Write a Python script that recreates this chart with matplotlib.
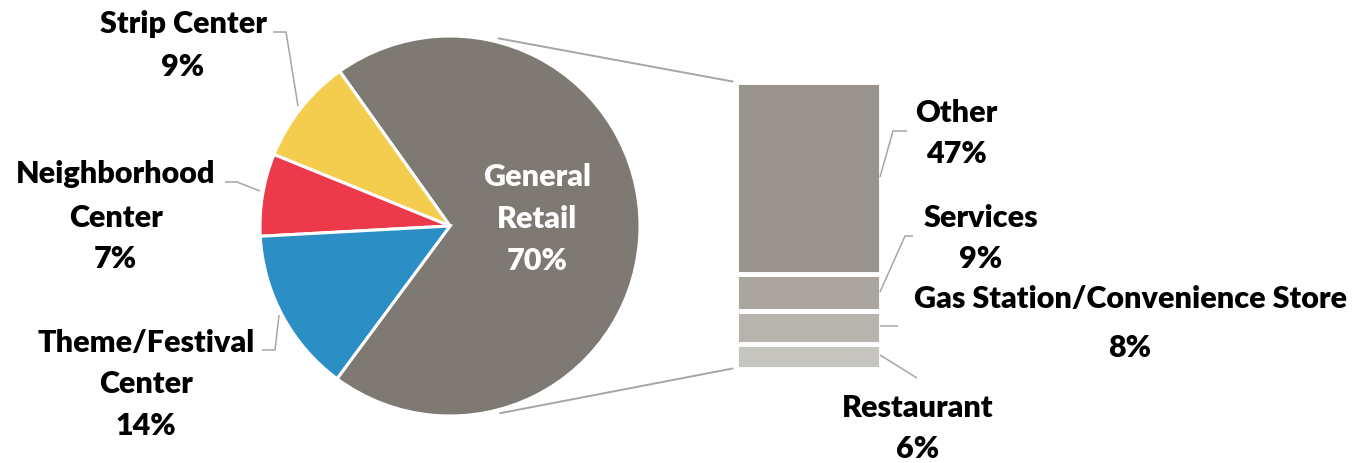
import matplotlib.pyplot as plt
import numpy as np
from matplotlib.patches import ConnectionPatch

# retail property mix: pie, with the General Retail slice broken out as a stacked bar
pie_names = ['General\nRetail', 'Strip Center', 'Neighborhood\nCenter', 'Theme/Festival\nCenter']
pie_values = [70, 9, 7, 14]
pie_colors = ['#7e7973', '#f4cd4f', '#ec3a4b', '#2b8ec4']

bar_names = ['Restaurant', 'Gas Station/Convenience Store', 'Services', 'Other']
bar_values = [6, 8, 9, 47]
bar_colors = ['#c6c5c0', '#b7b4ae', '#aaa69f', '#98938c']

W, H = 1357, 464
FONT = ['Lato', 'DejaVu Sans']
LINE = '#a6a6a6'

fig = plt.figure(figsize=(W / 100, H / 100), dpi=100)


def box(x0, y0, x1, y1):
    # pixel box (top-left origin) -> figure fraction rect
    return [x0 / W, 1 - y1 / H, (x1 - x0) / W, (y1 - y0) / H]


# pie
ax_pie = fig.add_axes(box(260, 37, 640, 417))
ax_pie.pie(pie_values, colors=pie_colors, startangle=-126.5, counterclock=True,
           radius=1, wedgeprops=dict(edgecolor='white', linewidth=2.2))
ax_pie.set_xlim(-1, 1)
ax_pie.set_ylim(-1, 1)
ax_pie.set_aspect('equal')
ax_pie.axis('off')

# stacked bar for the breakout
ax_bar = fig.add_axes(box(735.5, 82.5, 880.5, 369.5))
bottom = 0
for v, c in zip(bar_values, bar_colors):
    ax_bar.bar(0.5, v, bottom=bottom, width=1, color=c, edgecolor='white', linewidth=3.5)
    bottom += v
ax_bar.set_xlim(0, 1)
ax_bar.set_ylim(0, sum(bar_values))
ax_bar.axis('off')

# connector lines pie -> bar
total = sum(bar_values)
for ang, yb in [(75.5, total), (-75.0, 0)]:
    t = np.deg2rad(ang)
    con = ConnectionPatch(xyA=(1.02 * np.cos(t), 1.02 * np.sin(t)), coordsA=ax_pie.transData,
                          xyB=(-0.02, yb), coordsB=ax_bar.transData,
                          color=LINE, linewidth=1.4)
    fig.add_artist(con)

# overlay in pixel coords for labels and leader lines
ov = fig.add_axes([0, 0, 1, 1])
ov.set_xlim(0, W)
ov.set_ylim(H, 0)
ov.axis('off')
ov.patch.set_alpha(0)

# label centre x and baselines of each text line
pie_pos = {
    'General\nRetail': (537, [186, 228, 270]),
    'Strip Center': (183, [33, 76]),
    'Neighborhood\nCenter': (115.5, [183, 227, 268]),
    'Theme/Festival\nCenter': (146, [352, 393, 435]),
}
bar_pos = {
    'Restaurant': (918, [417, 458]),
    'Gas Station/Convenience Store': (1130, [308, 357]),
    'Services': (981, [227, 268]),
    'Other': (956, [122, 163]),
}

leaders = [
    [(273, 33), (286, 33), (298, 107)],
    [(225, 183), (237, 183), (260, 192)],
    [(262, 351), (275, 351), (279, 316)],
    [(880, 178), (893, 132), (907, 132)],
    [(880, 293), (905, 237), (913, 237)],
    [(880, 327), (898, 327)],
    [(880, 356), (917, 379)],
]
for pts in leaders:
    xs, ys = zip(*pts)
    ov.plot(xs, ys, color=LINE, linewidth=1.1, solid_capstyle='butt')


def put_label(name, value, pos, color='black'):
    x, ys = pos[name]
    lines = name.split('\n') + ['{}%'.format(value)]
    for txt, y in zip(lines, ys):
        ov.text(x, y, txt, ha='center', va='baseline', fontsize=22,
                fontweight='heavy', family=FONT, color=color)


for i, (n, v) in enumerate(zip(pie_names, pie_values)):
    put_label(n, v, pie_pos, color='white' if i == 0 else 'black')
for n, v in zip(bar_names, bar_values):
    put_label(n, v, bar_pos)

fig.savefig('out.png', dpi=100)
